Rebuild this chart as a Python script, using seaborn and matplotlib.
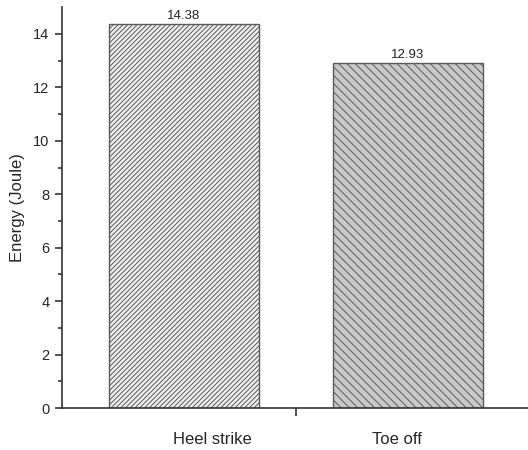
import matplotlib
matplotlib.use("Agg")
import matplotlib.pyplot as plt
import pandas as pd
import seaborn as sns

# données
categories = ["Heel strike", "Toe off"]
energia = [14.38, 12.93]
cores = ["#ededed", "#c8c8c8"]
hachuras = ["///////", "\\\\\\\\"]

sns.set_style("ticks")
plt.rcParams.update({
    "font.family": ["Liberation Sans", "DejaVu Sans"],
    "hatch.linewidth": 0.7,
})

df = pd.DataFrame({"fase": categories, "energia": energia})

fig = plt.figure(figsize=(5.28, 4.5), dpi=100)
ax = fig.add_axes([0.1174, 0.0933, 0.8826, 0.8907])

sns.barplot(data=df, x="fase", y="energia", hue="fase", palette=cores,
            width=0.67, edgecolor="#5a5a5a", linewidth=1.0, legend=False,
            ax=ax)

for barra, h in zip(ax.patches, hachuras):
    barra.set_hatch(h)

for cont in ax.containers:
    ax.bar_label(cont, fmt="%.2f", padding=1, fontsize=9.5, color="#222222")

ax.set_ylim(0, 15)
ax.set_xlim(-0.545, 1.536)
ax.set_yticks(range(0, 15, 2))
ax.set_yticks(range(1, 15, 2), minor=True)
ax.set_xticks([0.125, 0.95], labels=categories)
ax.set_xticks([0.5], minor=True)

ax.tick_params(axis="x", which="major", length=0, pad=17, labelsize=12)
ax.tick_params(axis="x", which="minor", length=6, width=1.2, direction="out",
               color="#333333")
ax.tick_params(axis="y", which="major", length=5, width=1.2, labelsize=10.5,
               pad=4, color="#333333")
ax.tick_params(axis="y", which="minor", length=3, width=1.2, color="#333333")

ax.set_xlabel("")
ax.set_ylabel("Energy (Joule)", fontsize=12, labelpad=6)

sns.despine(ax=ax)
for lado in ["left", "bottom"]:
    ax.spines[lado].set_color("#333333")
    ax.spines[lado].set_linewidth(1.2)

fig.savefig("out.png", dpi=100)
plt.close(fig)
